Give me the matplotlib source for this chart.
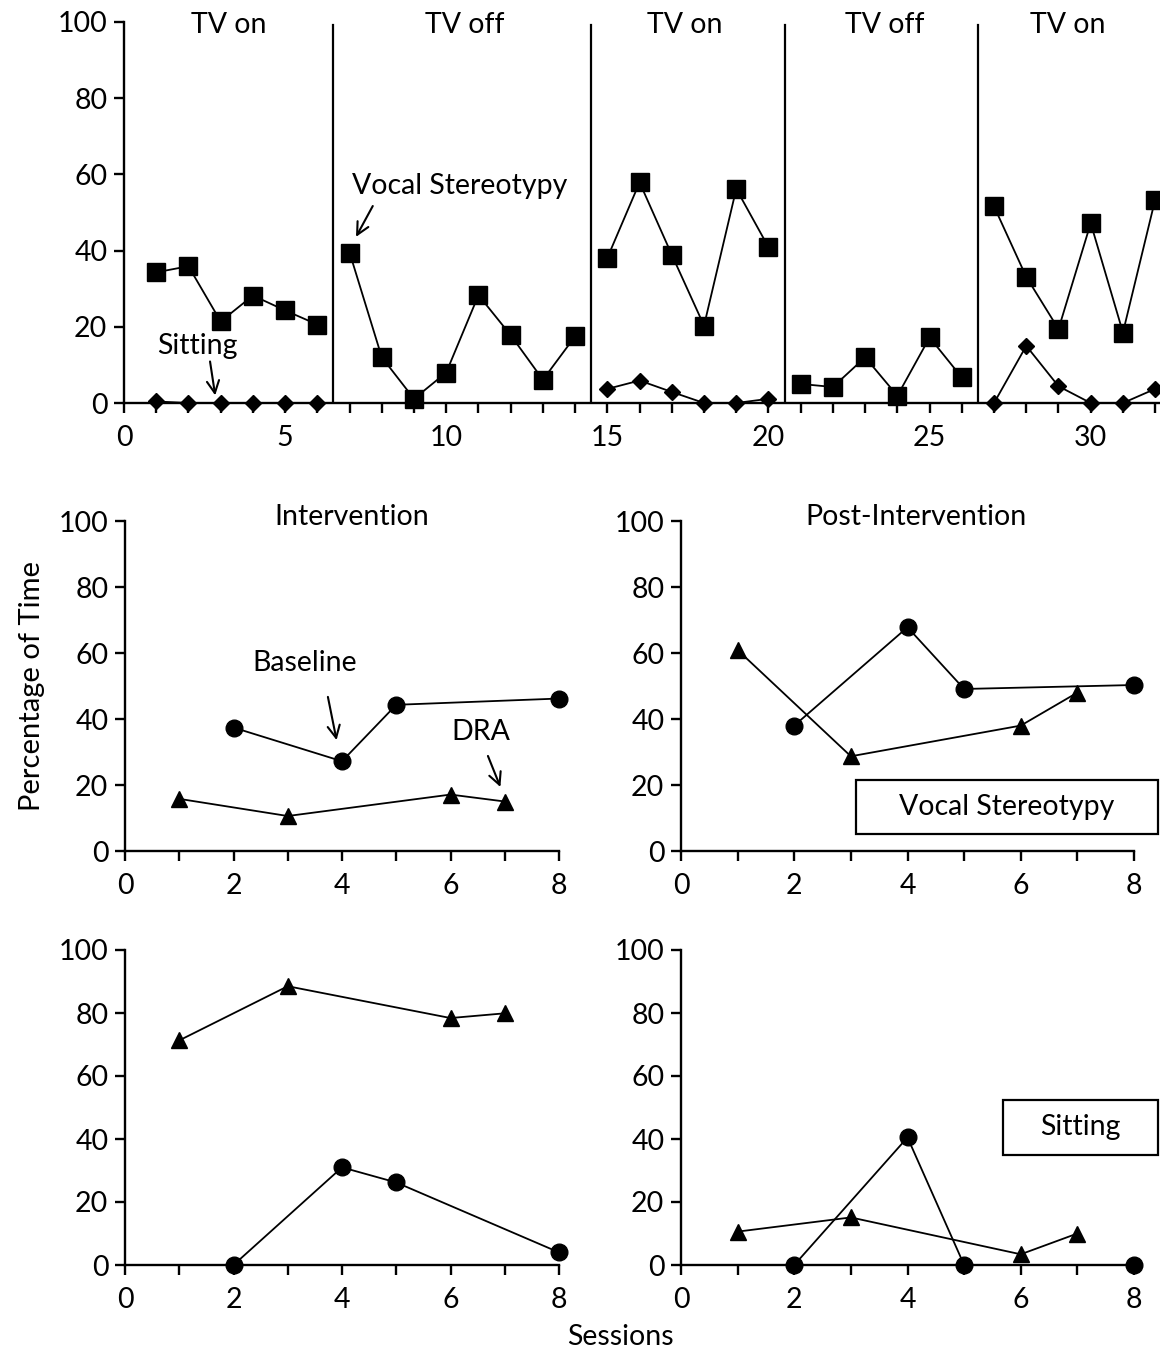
import matplotlib
matplotlib.use("Agg")
import matplotlib.pyplot as plt
from matplotlib.patches import Rectangle
import numpy as np

plt.rcParams['font.family'] = ['Lato', 'DejaVu Sans']

# ---------------- data ----------------
# Top panel: sessions 1-32, phases separated
phase_labels = ["TV on", "TV off", "TV on", "TV off", "TV on"]
phase_sessions = [[1, 2, 3, 4, 5, 6],
                  [7, 8, 9, 10, 11, 12, 13, 14],
                  [15, 16, 17, 18, 19, 20],
                  [21, 22, 23, 24, 25, 26],
                  [27, 28, 29, 30, 31, 32]]
vocal_top = [[34.3, 35.9, 21.4, 28.2, 24.3, 20.6],
             [39.5, 12.0, 1.1, 8.0, 28.3, 17.8, 6.1, 17.5],
             [38.1, 57.9, 38.9, 20.3, 56.2, 40.9],
             [5.0, 4.2, 12.0, 1.9, 17.2, 6.7],
             [51.6, 33.1, 19.4, 47.2, 18.5, 53.4]]
sitting_top = [[0.4, 0, 0, 0, 0, 0],
               None,
               [3.7, 5.9, 2.9, 0, 0, 1.1],
               None,
               [0, 15.0, 4.4, 0, 0, 3.7]]
phase_changes = [6.5, 14.5, 20.5, 26.5]

# Lower panels
baseline_sessions = [2, 4, 5, 8]
dra_sessions = [1, 3, 6, 7]
vocal_int_baseline = [37.4, 27.2, 44.3, 46.2]
vocal_int_dra = [15.8, 10.6, 17.1, 15.0]
vocal_post_baseline = [38.0, 67.8, 49.1, 50.3]
vocal_post_dra = [60.9, 28.7, 38.0, 48.0]
sit_int_baseline = [0, 31.0, 26.2, 4.0]
sit_int_dra = [71.3, 88.5, 78.4, 79.9]
sit_post_baseline = [0, 40.5, 0, 0]
sit_post_dra = [10.6, 15.1, 3.4, 10.0]

W, H = 1160, 1352
fig = plt.figure(figsize=(W / 100, H / 100), dpi=100)

FS = 20.5
LW = 1.3
SPW = 1.7
ARROW = dict(arrowstyle='->', lw=1.5, color='black', mutation_scale=22,
             shrinkA=0, shrinkB=0)


def px_axes(l, r, t, b):
    return fig.add_axes([l / W, 1 - b / H, (r - l) / W, (b - t) / H])


def style(ax):
    for s in ['top', 'right']:
        ax.spines[s].set_visible(False)
    for s in ['left', 'bottom']:
        ax.spines[s].set_linewidth(SPW)
    ax.tick_params(axis='both', which='both', direction='out', width=SPW,
                   labelsize=FS, length=7)
    ax.tick_params(axis='x', which='minor', length=7, width=SPW)
    ax.set_ylim(0, 100)
    ax.set_yticks([0, 20, 40, 60, 80, 100])
    ax.tick_params(axis='y', pad=5)
    ax.tick_params(axis='x', pad=9)


def arrow(ax, start, end):
    ax.annotate('', xy=end, xytext=start, arrowprops=ARROW)


# ---------------- top panel ----------------
ax = px_axes(124, 1160, 22, 403)
style(ax)
ax.set_xlim(0, 32.15)
ax.set_xticks(np.arange(0, 31, 5))
ax.set_xticks(np.arange(0, 33, 1), minor=True)
for xs, v, s in zip(phase_sessions, vocal_top, sitting_top):
    ax.plot(xs, v, color='black', lw=LW, marker='s', ms=12.5,
            clip_on=False, zorder=4)
    if s is not None:
        ax.plot(xs, s, color='black', lw=LW, marker='D', ms=8.5,
                clip_on=False, zorder=5)
for xc in phase_changes:
    ax.plot([xc, xc], [0, 99.2], color='black', lw=1.6, zorder=3)
label_x = [3.26, 10.56, 17.4, 23.6, 29.3]
for lx, lab in zip(label_x, phase_labels):
    ax.text(lx, 99.2, lab, ha='center', va='center', fontsize=FS)
ax.text(10.43, 57, "Vocal Stereotypy", ha='center', va='center', fontsize=FS)
arrow(ax, (7.72, 51.7), (7.2, 43.6))
ax.text(2.27, 15, "Sitting", ha='center', va='center', fontsize=FS)
arrow(ax, (2.67, 10.9), (2.83, 2.0))


def lower(ax, base, dra):
    style(ax)
    ax.set_xlim(0, 8)
    ax.set_xticks([0, 2, 4, 6, 8])
    ax.set_xticks(np.arange(0, 9, 1), minor=True)
    ax.plot(baseline_sessions, base, color='black', lw=LW, marker='o',
            ms=12, clip_on=False, zorder=4)
    ax.plot(dra_sessions, dra, color='black', lw=LW, marker='^',
            ms=12, clip_on=False, zorder=4)


# middle left
ax1 = px_axes(125, 559, 521, 851)
lower(ax1, vocal_int_baseline, vocal_int_dra)
ax1.text(4.18, 101.2, "Intervention", ha='center', va='center', fontsize=FS)
ax1.set_ylabel("Percentage of Time", fontsize=21, labelpad=10)
ax1.text(3.32, 57, "Baseline", ha='center', va='center', fontsize=FS)
arrow(ax1, (3.74, 46.7), (3.9, 33.6))
ax1.text(6.56, 36, "DRA", ha='center', va='center', fontsize=FS)
arrow(ax1, (6.69, 28.8), (6.92, 19.4))

# middle right
ax2 = px_axes(681, 1134, 521, 851)
lower(ax2, vocal_post_baseline, vocal_post_dra)
ax2.text(4.15, 101.2, "Post-Intervention", ha='center', va='center',
         fontsize=FS)

# bottom left
ax3 = px_axes(125, 559, 950, 1265)
lower(ax3, sit_int_baseline, sit_int_dra)

# bottom right
ax4 = px_axes(681, 1134, 950, 1265)
lower(ax4, sit_post_baseline, sit_post_dra)

# boxed labels
fig.add_artist(Rectangle((856 / W, 1 - 834 / H), (1158 - 856) / W, 54 / H,
                         transform=fig.transFigure, fill=False,
                         edgecolor='black', lw=1.6))
fig.text(1007 / W, 1 - 807 / H, "Vocal Stereotypy", ha='center', va='center',
         fontsize=FS)
fig.add_artist(Rectangle((1003 / W, 1 - 1155 / H), (1158 - 1003) / W, 55 / H,
                         transform=fig.transFigure, fill=False,
                         edgecolor='black', lw=1.6))
fig.text(1080 / W, 1 - 1127 / H, "Sitting", ha='center', va='center',
         fontsize=FS)

fig.text(620 / W, 1 - 1337 / H, "Sessions", ha='center', va='center',
         fontsize=FS)

fig.savefig("out.png", dpi=100)
